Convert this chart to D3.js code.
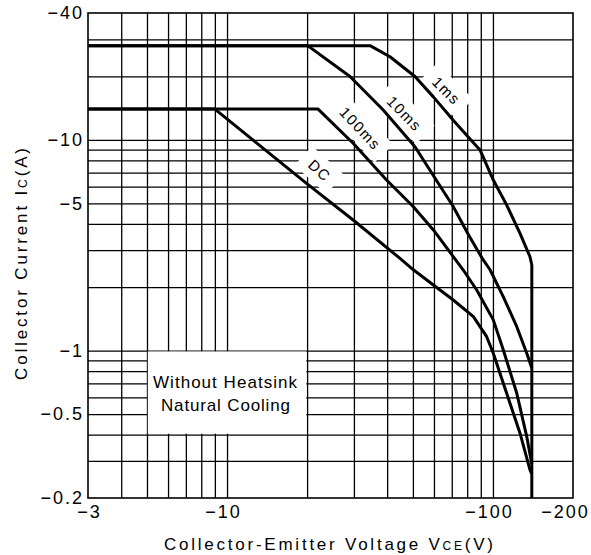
<!DOCTYPE html>
<html><head><meta charset="utf-8">
<script src="https://cdn.jsdelivr.net/npm/d3@7"></script>
<style>
body{margin:0;background:#fff}
svg{display:block}
text{font-family:"Liberation Sans",Arial,Helvetica,sans-serif;fill:#000}
</style>
</head><body>
<svg id="chart" width="591" height="555"></svg>
<script>
// ---- data ----
const xTicks = [3, 10, 100, 200];
const xTickLabels = ["−3", "−10", "−100", "−200"];
const yTicks = [0.2, 0.5, 1, 5, 10, 40];
const yTickLabels = ["−0.2", "−0.5", "−1", "−5", "−10", "−40"];
const xGrid = [4, 5, 6, 7, 8, 9, 10, 20, 30, 40, 50, 60, 70, 80, 90, 100];
const yGrid = [0.3, 0.4, 0.5, 0.6, 0.7, 0.8, 0.9, 1, 2, 3, 4, 5, 6, 7, 8, 9, 10, 20, 30];

const dcV = [3, 9, 12.5, 19.9, 29.8, 44.7, 50.2, 59.7, 70.9, 84.4, 94.7, 100.3, 112.6, 126.4, 137.8, 140];
const dcI = [14, 14, 10.0, 6.22, 4.17, 2.74, 2.42, 2.05, 1.74, 1.45, 1.165, 0.972, 0.628, 0.406, 0.272, 0.26];

const ms100V = [3, 22, 29.8, 39.8, 50.2, 59.7, 77.2, 86.9, 100.3, 109.4, 122.9, 134, 140];
const ms100I = [14, 14, 9.64, 6.45, 4.82, 3.74, 2.42, 1.94, 1.40, 1.008, 0.628, 0.391, 0.29];

const ms10V = [3, 20.1, 29, 38.6, 50.9, 60.5, 70.7, 80.6, 91, 97.5, 109.4, 122.9, 134, 140];
const ms10I = [28, 28, 20, 13.9, 9.28, 6.60, 4.86, 3.58, 2.75, 2.42, 1.80, 1.30, 0.972, 0.828];

const ms1V = [3, 34.5, 41, 50.9, 59.7, 70.9, 82, 89.4, 100.3, 112.6, 126.4, 137.8, 140, 140];
const ms1I = [28, 28, 24.8, 20, 16.0, 12.4, 10.1, 8.96, 6.45, 4.91, 3.60, 2.79, 2.55, 0.2];

const curveLabels = ["1ms", "10ms", "100ms", "DC"];
const curveLabelV = [66.6, 46.3, 31.6, 22.2];
const curveLabelI = [17.2, 13.4, 11.4, 7.2];

const boxV = [5, 20];
const boxI = [0.4, 1];
const boxLines = ["Without Heatsink", "Natural Cooling"];

// ---- layout ----
const L = 88, R = 573, T = 13, B = 498;
const svg = d3.select("#chart");
const x = d3.scaleLog().domain([3, 200]).range([L, R]);
const y = d3.scaleLog().domain([0.2, 40]).range([B, T]);

// grid
svg.append("g").attr("transform", `translate(0,${B})`)
  .call(d3.axisBottom(x).tickValues(xGrid).tickSize(-(B - T)).tickFormat(""))
  .call(g => g.select(".domain").remove())
  .selectAll("line").attr("stroke", "#000").attr("stroke-width", 1.3);
svg.append("g").attr("transform", `translate(${L},0)`)
  .call(d3.axisLeft(y).tickValues(yGrid).tickSize(-(R - L)).tickFormat(""))
  .call(g => g.select(".domain").remove())
  .selectAll("line").attr("stroke", "#000").attr("stroke-width", 1.3);

// frame
svg.append("rect").attr("x", L).attr("y", T).attr("width", R - L).attr("height", B - T)
  .attr("fill", "none").attr("stroke", "#000").attr("stroke-width", 1.6);

// note box (white area inside grid cell block)
svg.append("rect")
  .attr("x", x(boxV[0]) + 0.8).attr("y", y(boxI[1]) + 0.8)
  .attr("width", x(boxV[1]) - x(boxV[0]) - 1.6).attr("height", y(boxI[0]) - y(boxI[1]) - 1.6)
  .attr("fill", "#fff");

const bgLayer = svg.append("g");
const curveLayer = svg.append("g");
const textLayer = svg.append("g");

// curves
const series = [[dcV, dcI], [ms100V, ms100I], [ms10V, ms10I], [ms1V, ms1I]];
const line = d3.line().x(d => x(d[0])).y(d => y(d[1]));
series.forEach(([vs, is]) => {
  curveLayer.append("path").datum(vs.map((v, i) => [v, is[i]]))
    .attr("d", line).attr("fill", "none").attr("stroke", "#000")
    .attr("stroke-width", 3).attr("stroke-linejoin", "round");
});

// curve labels
const angles = [45, 45.7, 47, 42];
curveLabels.forEach((t, i) => {
  const tr = `translate(${x(curveLabelV[i])},${y(curveLabelI[i])}) rotate(${angles[i]})`;
  const g = textLayer.append("g").attr("transform", tr);
  const ls = 1.5;
  const txt = g.append("text").attr("text-anchor", "middle").attr("dy", "0.36em")
    .attr("font-size", 15).attr("letter-spacing", ls).attr("dx", ls / 2).text(t);
  const w = txt.node().getComputedTextLength();
  bgLayer.append("rect").attr("transform", tr)
    .attr("x", -w / 2 - 9).attr("y", -13).attr("width", w + 18).attr("height", 26)
    .attr("fill", "#fff");
});

// box text
function fitStart(sel, target) {
  const len = sel.node().getComputedTextLength();
  const n = sel.text().length;
  sel.attr("letter-spacing", (target - len) / (n - 1));
}
const bx = [153, 161], bw = [144, 129], bb = [388, 411];
boxLines.forEach((t, i) => {
  const tx = textLayer.append("text").attr("x", bx[i]).attr("y", bb[i]).attr("font-size", 17).text(t);
  fitStart(tx, bw[i]);
});

// tick labels
const tickLS = 2;
const xl = svg.append("g").attr("transform", `translate(0,${B})`)
  .call(d3.axisBottom(x).tickValues(xTicks).tickSize(0).tickPadding(7).tickFormat((d, i) => xTickLabels[i]));
xl.select(".domain").remove();
const xOff = [0, -5, -5, -9];
xl.selectAll("text").attr("font-size", 18).attr("font-family", null).attr("fill", "#000")
  .attr("letter-spacing", tickLS).attr("dx", (d, i) => xOff[i] + tickLS / 2);
const yl = svg.append("g").attr("transform", `translate(${L},0)`)
  .call(d3.axisLeft(y).tickValues(yTicks).tickSize(0).tickPadding(6).tickFormat((d, i) => yTickLabels[i]));
yl.select(".domain").remove();
yl.selectAll("text").attr("font-size", 18).attr("font-family", null).attr("fill", "#000")
  .attr("letter-spacing", tickLS).attr("dx", tickLS);
xl.attr("font-family", null); yl.attr("font-family", null);

// axis titles
const xt = svg.append("text").attr("x", 164).attr("y", 550).attr("font-size", 17);
xt.append("tspan").text("Collector-Emitter Voltage V");
xt.append("tspan").attr("font-size", 12).text("CE");
xt.append("tspan").text("(V)");
{
  const len = xt.node().getComputedTextLength();
  xt.attr("letter-spacing", (329 - len) / 31);
}
const yt = svg.append("text").attr("transform", "translate(27,380) rotate(-90)").attr("font-size", 17);
yt.append("tspan").text("Collector Current I");
yt.append("tspan").attr("font-size", 12).text("C");
yt.append("tspan").text("(A)");
{
  const len = yt.node().getComputedTextLength();
  yt.attr("letter-spacing", (232 - len) / 22);
}
</script>
</body></html>
